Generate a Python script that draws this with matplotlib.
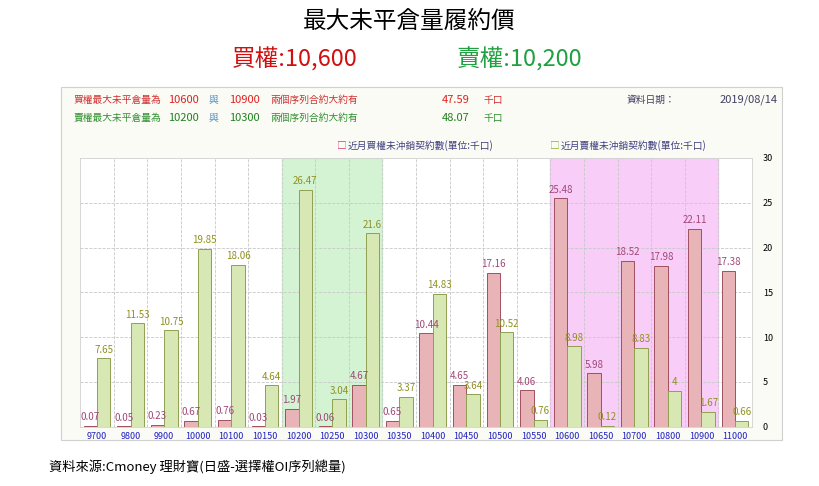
import numpy as np
import matplotlib.pyplot as plt
from matplotlib.patches import Rectangle

plt.rcParams['font.family'] = ['Noto Sans CJK JP', 'DejaVu Sans']

strikes = ['9700', '9800', '9900', '10000', '10100', '10150', '10200', '10250', '10300', '10350',
           '10400', '10450', '10500', '10550', '10600', '10650', '10700', '10800', '10900', '11000']
call_oi = [0.07, 0.05, 0.23, 0.67, 0.76, 0.03, 1.97, 0.06, 4.67, 0.65,
           10.44, 4.65, 17.16, 4.06, 25.48, 5.98, 18.52, 17.98, 22.11, 17.38]
put_oi = [7.65, 11.53, 10.75, 19.85, 18.06, 4.64, 26.47, 3.04, 21.6, 3.37,
          14.83, 3.64, 10.52, 0.76, 8.98, 0.12, 8.83, 4, 1.67, 0.66]

fig = plt.figure(figsize=(8.19, 4.86), dpi=100)
fig.text(0.5, 0.955, '最大未平倉量履約價', ha='center', va='center', fontsize=17)
fig.text(0.36, 0.878, '買權:10,600', ha='center', va='center', fontsize=17, color='#d01010')
fig.text(0.635, 0.878, '賣權:10,200', ha='center', va='center', fontsize=17, color='#20a040')

# panel background
fig.patches.append(Rectangle((0.075, 0.095), 0.88, 0.725, transform=fig.transFigure,
                             facecolor='#fbfbf6', edgecolor='#d0d0d0', lw=0.8, zorder=-1))
fs = 7
fig.text(0.09, 0.795, '買權最大未平倉量為', color='#d03030', fontsize=fs, va='center')
fig.text(0.205, 0.795, '10600', color='#e02020', fontsize=8, va='center')
fig.text(0.255, 0.795, '與', color='#5090c0', fontsize=fs, va='center')
fig.text(0.28, 0.795, '10900', color='#e02020', fontsize=8, va='center')
fig.text(0.33, 0.795, '兩個序列合約大約有', color='#d03030', fontsize=fs, va='center')
fig.text(0.54, 0.795, '47.59', color='#e02020', fontsize=8, va='center')
fig.text(0.59, 0.795, '千口', color='#d03030', fontsize=fs, va='center')
fig.text(0.765, 0.795, '資料日期：', color='#404060', fontsize=fs, va='center')
fig.text(0.95, 0.795, '2019/08/14', color='#404060', fontsize=8, va='center', ha='right')
fig.text(0.09, 0.758, '賣權最大未平倉量為', color='#309030', fontsize=fs, va='center')
fig.text(0.205, 0.758, '10200', color='#208020', fontsize=8, va='center')
fig.text(0.255, 0.758, '與', color='#5090c0', fontsize=fs, va='center')
fig.text(0.28, 0.758, '10300', color='#208020', fontsize=8, va='center')
fig.text(0.33, 0.758, '兩個序列合約大約有', color='#309030', fontsize=fs, va='center')
fig.text(0.54, 0.758, '48.07', color='#208020', fontsize=8, va='center')
fig.text(0.59, 0.758, '千口', color='#309030', fontsize=fs, va='center')
fig.text(0.412, 0.70, '□', color='#d04070', fontsize=fs, va='center')
fig.text(0.424, 0.70, '近月買權未沖銷契約數(單位:千口)', color='#404080', fontsize=fs, va='center')
fig.text(0.672, 0.70, '□', color='#90b030', fontsize=fs, va='center')
fig.text(0.684, 0.70, '近月賣權未沖銷契約數(單位:千口)', color='#404080', fontsize=fs, va='center')

ax = fig.add_axes([0.098, 0.122, 0.82, 0.553])
x = np.arange(len(strikes))
w = 0.4
ax.axvspan(5.5, 8.5, color='#c8f0c8', alpha=0.8, zorder=0)
ax.axvspan(13.5, 18.5, color='#f8c8f8', alpha=0.9, zorder=0)
ax.bar(x - w / 2, call_oi, w, color='#e8b4b8', edgecolor='#a05060', lw=0.7, zorder=2)
ax.bar(x + w / 2, put_oi, w, color='#d8e8b4', edgecolor='#90a050', lw=0.7, zorder=2)
for i in x:
    ax.text(i - w / 2, call_oi[i] + 0.4, f'{call_oi[i]:g}', ha='center', va='bottom',
            fontsize=7, color='#a04878', zorder=3)
    ax.text(i + w / 2, put_oi[i] + 0.4, f'{put_oi[i]:g}', ha='center', va='bottom',
            fontsize=7, color='#909020', zorder=3)
ax.set_xlim(-0.5, len(strikes) - 0.5)
ax.set_ylim(0, 30)
ax.set_xticks(x)
ax.set_xticklabels(strikes, fontsize=6.5, color='#2020c0')
ax.set_yticks(range(0, 31, 5))
ax.yaxis.tick_right()
ax.tick_params(axis='y', labelsize=6.5, length=0, pad=8)
ax.tick_params(axis='x', length=0)
for v in range(5, 30, 5):
    ax.axhline(v, color='#c8c8c8', ls='--', lw=0.6, zorder=1)
for b in x[:-1] + 0.5:
    ax.axvline(b, color='#c8c8c8', ls='--', lw=0.6, zorder=1)
ax.set_facecolor('white')
for s in ax.spines.values():
    s.set_color('#d0d0d0')
    s.set_linewidth(0.6)

fig.text(0.06, 0.04, '資料來源:Cmoney 理財寶(日盛-選擇權OI序列總量)', fontsize=9.5, va='center')
fig.savefig('out.png', dpi=100)
